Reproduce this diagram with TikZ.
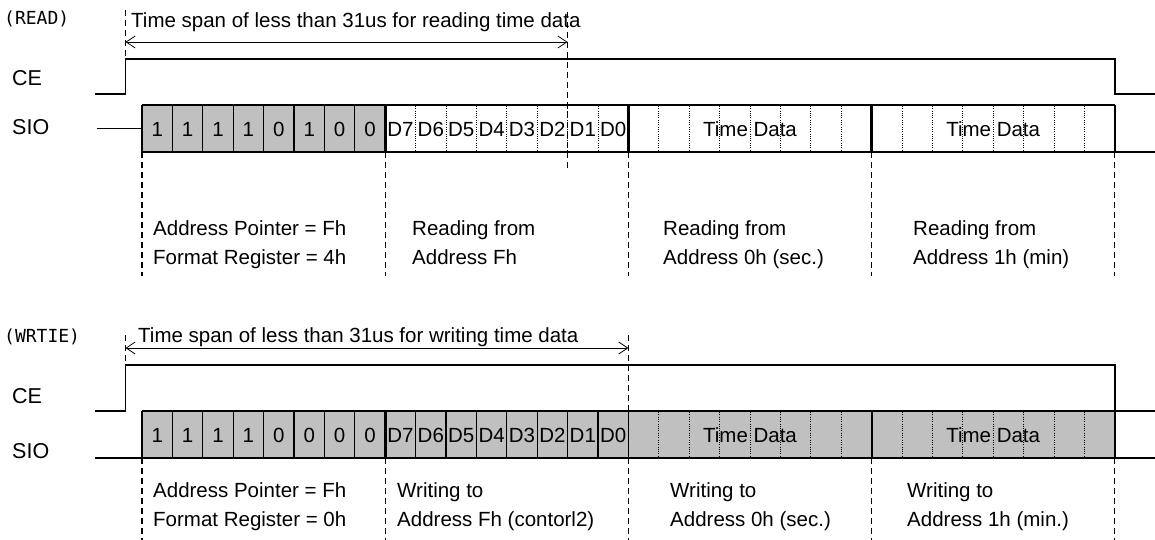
\documentclass[tikz,border=0pt]{standalone}
\usepackage{fontspec}
\setmainfont{Liberation Sans}
\newfontfamily\headfont{DejaVu Sans Mono}
\usetikzlibrary{arrows.meta}

\definecolor{cellgray}{RGB}{192,192,192}

\tikzset{
  sig/.style={line width=1.3pt},
  thickedge/.style={line width=3pt},
  cut/.style={line width=1.2pt, dash pattern=on 6pt off 4pt},
  tick/.style={line width=0.9pt, dash pattern=on 1pt off 1.3pt},
  span/.style={line width=0.8pt, {Straight Barb[length=9pt,width=12pt]}-{Straight Barb[length=9pt,width=12pt]}},
  txt/.style={font=\fontsize{20.5}{24}\selectfont, inner sep=0pt},
  lbl/.style={txt, anchor=base west},
  signame/.style={font=\fontsize{21.5}{24}\selectfont, inner sep=0pt, anchor=base west},
  head/.style={font=\headfont\fontsize{18}{20}\selectfont, inner sep=0pt, anchor=base west}
}

\begin{document}
\begin{tikzpicture}[x=1pt,y=-1pt]
  \useasboundingbox (0,0) rectangle (1155,540);

  % ---------------- READ ----------------
  \node[head] (readhead) at (4,25) {(READ)};
  \node[signame] (readce) at (12,86) {CE};
  \node[signame] (readsio) at (12,135) {SIO};
  \draw[sig] (95,94) -- (125.5,94) -- (125.5,59) -- (1115,59) -- (1115,94) -- (1155,94); % CE
  \draw[sig] (97,128.5) -- (142,128.5); % SIO idle
  \fill[cellgray] (142,105) rectangle (385.2,152);
  \draw[sig] (142,105) -- (1115,105);
  \draw[sig] (142,152) -- (1155,152);
  \draw[sig] (142,105) -- (142,152);
  \draw[sig] (1115,105) -- (1115,152);
  \foreach \k in {1,...,7} \draw[sig] ({142+\k*30.4},105) -- ({142+\k*30.4},152);
  \foreach \k in {8,16,24} \draw[thickedge] ({142+\k*30.4},105) -- ({142+\k*30.4},152);
  \foreach \k in {9,...,15,17,18,...,23,25,26,...,31} \draw[tick] ({142+\k*30.4},106) -- ({142+\k*30.4},151);
  \foreach \b [count=\k from 0] in {1,1,1,1,0,1,0,0}
    \node[txt, anchor=base] (rbit\k) at ({142+(\k+0.5)*30.4},136.5) {\b};
  \foreach \d [count=\k from 0] in {7,6,5,4,3,2,1,0}
    \node[txt, anchor=base] (rdat\k) at ({385.2+(\k+0.5)*30.4},136.5) {D\d};
  \node[txt, anchor=base] (rtime1) at (750,136.5) {Time Data};
  \node[txt, anchor=base] (rtime2) at (993.2,136.5) {Time Data};

  % span for reading
  \coordinate (rspanL) at (125.5,42);
  \coordinate (rspanR) at (567.6,42);
  \draw[cut, line width=0.9pt] (125.5,10) -- (125.5,59);
  \draw[cut] (567.6,12) -- (567.6,168);
  \draw[span] (rspanL) -- (rspanR);
  \node[lbl] (rspantxt) at (131,28) {Time span of less than 31us for reading time data};

  \foreach \k in {0,8,16,24,32} \draw[cut] ({142+\k*30.4},152) -- ({142+\k*30.4},276);
  \node[lbl] (rnote1a) at (153,235) {Address Pointer = Fh};
  \node[lbl] (rnote1b) at (153,264) {Format Register = 4h};
  \node[lbl] (rnote2a) at (412,235) {Reading from};
  \node[lbl] (rnote2b) at (412,264) {Address Fh};
  \node[lbl] (rnote3a) at (663,235) {Reading from};
  \node[lbl] (rnote3b) at (663,264) {Address 0h (sec.)};
  \node[lbl] (rnote4a) at (913,235) {Reading from};
  \node[lbl] (rnote4b) at (913,264) {Address 1h (min)};

  % ---------------- WRITE ----------------
  \node[head] (writehead) at (4,342) {(WRTIE)};
  \node[signame] (writece) at (12,403) {CE};
  \node[signame] (writesio) at (12,458) {SIO};
  \draw[sig] (95,411) -- (125.5,411) -- (125.5,365) -- (1115,365) -- (1115,411); % CE
  \draw[sig] (95,458) -- (142,458); % SIO low
  \fill[cellgray] (142,411) rectangle (1115,458);
  \draw[sig] (142,411) -- (1155,411);
  \draw[sig] (142,458) -- (1155,458);
  \draw[sig] (142,411) -- (142,458);
  \draw[sig] (1115,411) -- (1115,458);
  \foreach \k in {1,...,7,9,10,...,16} \draw[sig] ({142+\k*30.4},411) -- ({142+\k*30.4},458);
  \draw[thickedge] (385.2,411) -- (385.2,458);
  \draw[line width=2pt] (871.6,411) -- (871.6,458);
  \foreach \k in {17,18,...,23,25,26,...,31} \draw[tick] ({142+\k*30.4},412) -- ({142+\k*30.4},457);
  \foreach \b [count=\k from 0] in {1,1,1,1,0,0,0,0}
    \node[txt, anchor=base] (wbit\k) at ({142+(\k+0.5)*30.4},442.5) {\b};
  \foreach \d [count=\k from 0] in {7,6,5,4,3,2,1,0}
    \node[txt, anchor=base] (wdat\k) at ({385.2+(\k+0.5)*30.4},442.5) {D\d};
  \node[txt, anchor=base] (wtime1) at (750,442.5) {Time Data};
  \node[txt, anchor=base] (wtime2) at (993.2,442.5) {Time Data};

  % span for writing
  \coordinate (wspanL) at (125.5,348);
  \coordinate (wspanR) at (628.4,348);
  \draw[cut, line width=0.9pt] (125.5,335) -- (125.5,365);
  \draw[cut] (628.4,335) -- (628.4,411);
  \draw[span] (wspanL) -- (wspanR);
  \node[lbl] (wspantxt) at (138,342) {Time span of less than 31us for writing time data};

  \foreach \k in {0,8,16,24,32} \draw[cut] ({142+\k*30.4},458) -- ({142+\k*30.4},540);
  \node[lbl] (wnote1a) at (153,497) {Address Pointer = Fh};
  \node[lbl] (wnote1b) at (153,526) {Format Register = 0h};
  \node[lbl] (wnote2a) at (397,497) {Writing to};
  \node[lbl] (wnote2b) at (397,526) {Address Fh (contorl2)};
  \node[lbl] (wnote3a) at (670,497) {Writing to};
  \node[lbl] (wnote3b) at (670,526) {Address 0h (sec.)};
  \node[lbl] (wnote4a) at (907,497) {Writing to};
  \node[lbl] (wnote4b) at (907,526) {Address 1h (min.)};
\end{tikzpicture}
\end{document}
